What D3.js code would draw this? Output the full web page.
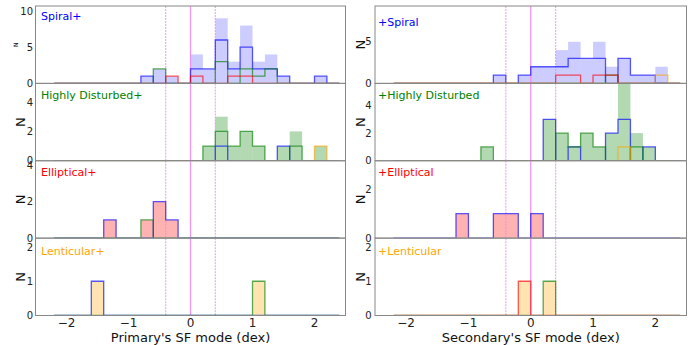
<!DOCTYPE html>
<html><head><meta charset="utf-8">
<script src="https://cdn.jsdelivr.net/npm/d3@7"></script>
<style>body{margin:0;background:#fff}svg{display:block;font-family:"DejaVu Sans",sans-serif}</style>
</head><body><svg id="c" width="697" height="345"></svg>
<script>
// ---------- data ----------
const binLefts=[-2.2,-2.0,-1.8,-1.6,-1.4,-1.2,-1.0,-0.8,-0.6,-0.4,-0.2,0.0,0.2,0.4,0.6,0.8,1.0,1.2,1.4,1.6,1.8,2.0,2.2];
const binWidth=0.2;
const xTicks=[-2,-1,0,1,2];
const refLines=[-0.4,0,0.4];
const primaryLabels=["Spiral+","Highly Disturbed+","Elliptical+","Lenticular+"];
const secondaryLabels=["+Spiral","+Highly Disturbed","+Elliptical","+Lenticular"];
const typeColors=["#0000ff","#008000","#ff0000","#ffa500"];
const axisTitles=["Primary's SF mode (dex)","Secondary's SF mode (dex)"];
const yMaxPrimary=[10.7,5.27,4.24,2.26];
const yMaxSecondary=[9.3,5.6,3.17,2.26];
const yTicksPrimary=[[0,5,10],[0,2,4],[0,2,4],[0,1,2]];
const yTicksSecondary=[[0,5],[0,2,4],[0,2],[0,1,2]];

// Primary panels (total fill + outlines by partner: spiral, disturbed, elliptical, lenticular)
const pSpiralTotal   =[0,0,0,0,0,0,0,1,2,1,0,4,2,9,3,8,3,4,1,0,0,1,0];
const pSpiralWithS   =[0,0,0,0,0,0,0,1,0,0,0,2,2,6,2,5,2,2,1,0,0,1,0];
const pSpiralWithD   =[0,0,0,0,0,0,0,0,2,0,0,0,0,3,0,2,1,2,0,0,0,0,0];
const pSpiralWithE   =[0,0,0,0,0,0,0,0,0,1,0,1,0,0,1,1,0,0,0,0,0,0,0];
const pSpiralWithL   =[0,0,0,0,0,0,0,0,0,0,0,0,0,0,0,0,0,0,0,0,0,0,0];
const pDisturbedTotal=[0,0,0,0,0,0,0,0,0,0,0,0,1,3,1,2,1,0,1,2,0,1,0];
const pDisturbedWithS=[0,0,0,0,0,0,0,0,0,0,0,0,0,1,0,0,0,0,1,0,0,0,0];
const pDisturbedWithD=[0,0,0,0,0,0,0,0,0,0,0,0,1,2,1,2,1,0,0,1,0,0,0];
const pDisturbedWithE=[0,0,0,0,0,0,0,0,0,0,0,0,0,0,0,0,0,0,0,0,0,0,0];
const pDisturbedWithL=[0,0,0,0,0,0,0,0,0,0,0,0,0,0,0,0,0,0,0,0,0,1,0];
const pEllipticalTotal=[0,0,0,0,1,0,0,1,2,1,0,0,0,0,0,0,0,0,0,0,0,0,0];
const pEllipticalWithS=[0,0,0,0,1,0,0,0,2,1,0,0,0,0,0,0,0,0,0,0,0,0,0];
const pEllipticalWithD=[0,0,0,0,0,0,0,1,0,0,0,0,0,0,0,0,0,0,0,0,0,0,0];
const pEllipticalWithE=[0,0,0,0,0,0,0,0,0,0,0,0,0,0,0,0,0,0,0,0,0,0,0];
const pEllipticalWithL=[0,0,0,0,0,0,0,0,0,0,0,0,0,0,0,0,0,0,0,0,0,0,0];
const pLenticularTotal=[0,0,0,1,0,0,0,0,0,0,0,0,0,0,0,0,1,0,0,0,0,0,0];
const pLenticularWithS=[0,0,0,1,0,0,0,0,0,0,0,0,0,0,0,0,0,0,0,0,0,0,0];
const pLenticularWithD=[0,0,0,0,0,0,0,0,0,0,0,0,0,0,0,0,1,0,0,0,0,0,0];
const pLenticularWithE=[0,0,0,0,0,0,0,0,0,0,0,0,0,0,0,0,0,0,0,0,0,0,0];
const pLenticularWithL=[0,0,0,0,0,0,0,0,0,0,0,0,0,0,0,0,0,0,0,0,0,0,0];

// Secondary panels
const sSpiralTotal   =[0,0,0,0,0,0,0,0,1,0,1,2,2,4,5,3,5,2,3,1,1,2,0];
const sSpiralWithS   =[0,0,0,0,0,0,0,0,1,0,1,2,2,2,3,3,3,0,3,1,1,0,0];
const sSpiralWithD   =[0,0,0,0,0,0,0,0,0,0,0,0,0,0,0,0,0,1,0,0,0,0,0];
const sSpiralWithE   =[0,0,0,0,0,0,0,0,0,0,0,0,0,1,1,0,1,1,0,0,0,0,0];
const sSpiralWithL   =[0,0,0,0,0,0,0,0,0,0,0,0,0,0,0,0,0,0,0,0,0,1,0];
const sDisturbedTotal=[0,0,0,0,0,0,0,1,0,0,0,0,3,2,1,2,1,2,7,2,1,0,0];
const sDisturbedWithS=[0,0,0,0,0,0,0,0,0,0,0,0,3,0,1,0,0,2,3,0,1,0,0];
const sDisturbedWithD=[0,0,0,0,0,0,0,1,0,0,0,0,0,2,1,2,1,0,0,1,0,0,0];
const sDisturbedWithE=[0,0,0,0,0,0,0,0,0,0,0,0,0,0,0,0,0,0,0,0,0,0,0];
const sDisturbedWithL=[0,0,0,0,0,0,0,0,0,0,0,0,0,0,0,0,0,0,1,0,0,0,0];
const sEllipticalTotal=[0,0,0,0,0,1,0,0,1,1,0,1,0,0,0,0,0,0,0,0,0,0,0];
const sEllipticalWithS=[0,0,0,0,0,1,0,0,1,1,0,1,0,0,0,0,0,0,0,0,0,0,0];
const sEllipticalWithD=[0,0,0,0,0,0,0,0,0,0,0,0,0,0,0,0,0,0,0,0,0,0,0];
const sEllipticalWithE=[0,0,0,0,0,0,0,0,0,0,0,0,0,0,0,0,0,0,0,0,0,0,0];
const sEllipticalWithL=[0,0,0,0,0,0,0,0,0,0,0,0,0,0,0,0,0,0,0,0,0,0,0];
const sLenticularTotal=[0,0,0,0,0,0,0,0,0,0,1,0,1,0,0,0,0,0,0,0,0,0,0];
const sLenticularWithS=[0,0,0,0,0,0,0,0,0,0,0,0,0,0,0,0,0,0,0,0,0,0,0];
const sLenticularWithD=[0,0,0,0,0,0,0,0,0,0,0,0,1,0,0,0,0,0,0,0,0,0,0];
const sLenticularWithE=[0,0,0,0,0,0,0,0,0,0,1,0,0,0,0,0,0,0,0,0,0,0,0];
const sLenticularWithL=[0,0,0,0,0,0,0,0,0,0,0,0,0,0,0,0,0,0,0,0,0,0,0];

// ---------- layout ----------
const svg=d3.select("#c");
const panelTop=6, panelBottom=315.5, nRows=4;
const rowH=(panelBottom-panelTop)/nRows;
const cols=[
  {x0:35.5,x1:345.5,tickX:33,nX:[15.5,20,20,20],labelX:41,labels:primaryLabels,yMax:yMaxPrimary,yTicks:yTicksPrimary,
   labelDy:[13.5,15.5,15.5,17.3],nSize:[6,13,13,13],
   total:[pSpiralTotal,pDisturbedTotal,pEllipticalTotal,pLenticularTotal],
   parts:[[pSpiralWithS,pSpiralWithD,pSpiralWithE,pSpiralWithL],
          [pDisturbedWithS,pDisturbedWithD,pDisturbedWithE,pDisturbedWithL],
          [pEllipticalWithS,pEllipticalWithD,pEllipticalWithE,pEllipticalWithL],
          [pLenticularWithS,pLenticularWithD,pLenticularWithE,pLenticularWithL]]},
  {x0:375,x1:686.5,tickX:371.5,nX:[360,360,360,360],labelX:378,labels:secondaryLabels,yMax:yMaxSecondary,yTicks:yTicksSecondary,
   labelDy:[19.5,15.5,15.5,17.3],nSize:[13,13,13,13],
   total:[sSpiralTotal,sDisturbedTotal,sEllipticalTotal,sLenticularTotal],
   parts:[[sSpiralWithS,sSpiralWithD,sSpiralWithE,sSpiralWithL],
          [sDisturbedWithS,sDisturbedWithD,sDisturbedWithE,sDisturbedWithL],
          [sEllipticalWithS,sEllipticalWithD,sEllipticalWithE,sEllipticalWithL],
          [sLenticularWithS,sLenticularWithD,sLenticularWithE,sLenticularWithL]]}
];
const fillOpacity=[0.2,0.3,0.3,0.3];

cols.forEach((c,ci)=>{
  const x=d3.scaleLinear().domain([-2.5,2.5]).range([c.x0,c.x1]);
  for(let r=0;r<nRows;r++){
    const top=panelTop+r*rowH, bot=top+rowH;
    const y=d3.scaleLinear().domain([0,c.yMax[r]]).range([bot,top]);
    const g=svg.append("g");
    const cid="clip"+ci+"_"+r;
    svg.append("clipPath").attr("id",cid).append("rect")
      .attr("x",c.x0).attr("y",top).attr("width",c.x1-c.x0).attr("height",rowH);
    const body=g.append("g").attr("clip-path","url(#"+cid+")");
    // filled totals
    body.selectAll("rect.fill").data(c.total[r].map((v,i)=>({x:binLefts[i],v}))).join("rect")
      .attr("x",d=>x(d.x)).attr("width",d=>x(d.x+binWidth)-x(d.x))
      .attr("y",d=>y(d.v)).attr("height",d=>y(0)-y(d.v))
      .attr("fill",typeColors[r]).attr("fill-opacity",fillOpacity[r]);
    // reference lines
    refLines.forEach(v=>{
      body.append("line").attr("x1",x(v)).attr("x2",x(v)).attr("y1",top).attr("y2",bot)
        .attr("stroke",v===0?"violet":"#e58be8").attr("stroke-width",v===0?1.3:1.1)
        .attr("stroke-opacity",v===0?0.85:0.8)
        .attr("stroke-dasharray",v===0?null:"2,1");
    });
    // step outlines
    const line=d3.line().x(d=>x(d[0])).y(d=>y(d[1]));
    c.parts[r].forEach((arr,k)=>{
      if(!arr.some(v=>v>0)) return;
      const pts=[[binLefts[0],0]];
      arr.forEach((v,i)=>{pts.push([binLefts[i],v]);pts.push([binLefts[i]+binWidth,v]);});
      pts.push([binLefts[arr.length-1]+binWidth,0]);
      body.append("path").attr("d",line(pts)).attr("fill","none")
        .attr("stroke",typeColors[k]).attr("stroke-width",1.3).attr("stroke-opacity",0.65);
    });
    // frame
    g.append("rect").attr("x",c.x0).attr("y",top).attr("width",c.x1-c.x0).attr("height",rowH)
      .attr("fill","none").attr("stroke","#888").attr("stroke-width",1);
    // y ticks
    c.yTicks[r].forEach(t=>{
      g.append("text").attr("x",c.tickX).attr("y",y(t)).attr("dy","0.36em")
        .attr("text-anchor","end").attr("font-size",10).attr("fill","#222").text(t);
    });
    // y label
    g.append("text").attr("transform","translate("+c.nX[r]+","+((top+bot)/2)+") rotate(-90)")
      .attr("text-anchor","middle").attr("dy","0.36em").attr("font-size",c.nSize[r]).attr("fill","#111").text("N");
    // panel label
    g.append("text").attr("x",c.labelX).attr("y",top+c.labelDy[r]).attr("font-size",11)
      .attr("fill",typeColors[r]).text(c.labels[r]);
    // x ticks on bottom row
    if(r===nRows-1){
      xTicks.forEach(t=>{
        g.append("text").attr("x",x(t)).attr("y",bot+11).attr("text-anchor","middle")
          .attr("font-size",12).attr("fill","#222").text(t<0?"\u2212"+Math.abs(t):t);
      });
      g.append("text").attr("x",(c.x0+c.x1)/2).attr("y",bot+26).attr("text-anchor","middle")
        .attr("font-size",13).attr("fill","#111").text(axisTitles[ci]);
    }
  }
});
</script></body></html>
